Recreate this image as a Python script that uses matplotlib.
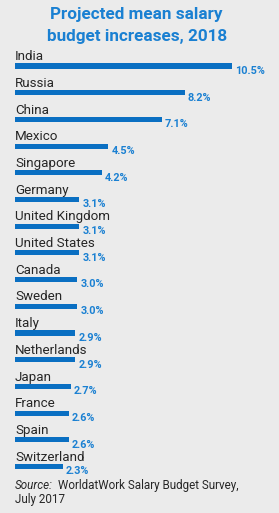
import matplotlib
matplotlib.use("Agg")
import matplotlib.pyplot as plt

countries = ["India", "Russia", "China", "Mexico", "Singapore", "Germany",
             "United Kingdom", "United States", "Canada", "Sweden", "Italy",
             "Netherlands", "Japan", "France", "Spain", "Switzerland"]
values = [10.5, 8.2, 7.1, 4.5, 4.2, 3.1, 3.1, 3.1, 3.0, 3.0, 2.9, 2.9, 2.7, 2.6, 2.6, 2.3]
value_labels = [f"{v:.1f}%" for v in values]

BG = "#ebebeb"
BAR = "#0a6fc2"
BLUE = "#1a80d2"
DARK = "#262626"
plt.rcParams["font.family"] = ["Roboto", "DejaVu Sans"]

W, H, DPI = 279, 513, 100
fig = plt.figure(figsize=(W / DPI, H / DPI), dpi=DPI, facecolor=BG)
ax = fig.add_axes([0, 0, 1, 1])
ax.set_facecolor(BG)

# pixel mapping: x=0 at 15px, 20.7 px per unit; row i centre at 66 + 26.7*i px
px_unit, x0 = 20.7, 15
row_px, y0 = 26.7, 66
ax.set_xlim(-x0 / px_unit, (W - x0) / px_unit)
ax.set_ylim((H - y0) / row_px, -y0 / row_px)
ax.axis("off")

ys = list(range(len(countries)))
ax.barh(ys, values, height=0.19, color=BAR, left=0)
for i, (c, v, lab) in enumerate(zip(countries, values, value_labels)):
    ax.text(0, i - 0.22, c, fontsize=9.6, color=DARK, ha="left", va="baseline")
    ax.text(v + 0.15, i + 0.18, lab, fontsize=7.8, color=BLUE, fontweight="bold",
            ha="left", va="center")

fig.text(0.49, 1 - 14 / H, "Projected mean salary", fontsize=12.3, fontweight="bold",
         color=BLUE, ha="center", va="center")
fig.text(0.49, 1 - 37 / H, "budget increases, 2018", fontsize=12.3, fontweight="bold",
         color=BLUE, ha="center", va="center")

# source note
src = fig.text(x0 / W, 1 - 489 / H, "Source:", fontsize=8.4, style="italic", color=DARK,
               ha="left", va="baseline")
ax.annotate("WorldatWork Salary Budget Survey,", xy=(1, 0), xycoords=src,
            xytext=(4, 0), textcoords="offset points", fontsize=8.4, color=DARK,
            ha="left", va="bottom")
fig.text(x0 / W, 1 - 503 / H, "July 2017", fontsize=8.4, color=DARK, ha="left", va="baseline")

fig.savefig("out.png", dpi=DPI, facecolor=BG)
